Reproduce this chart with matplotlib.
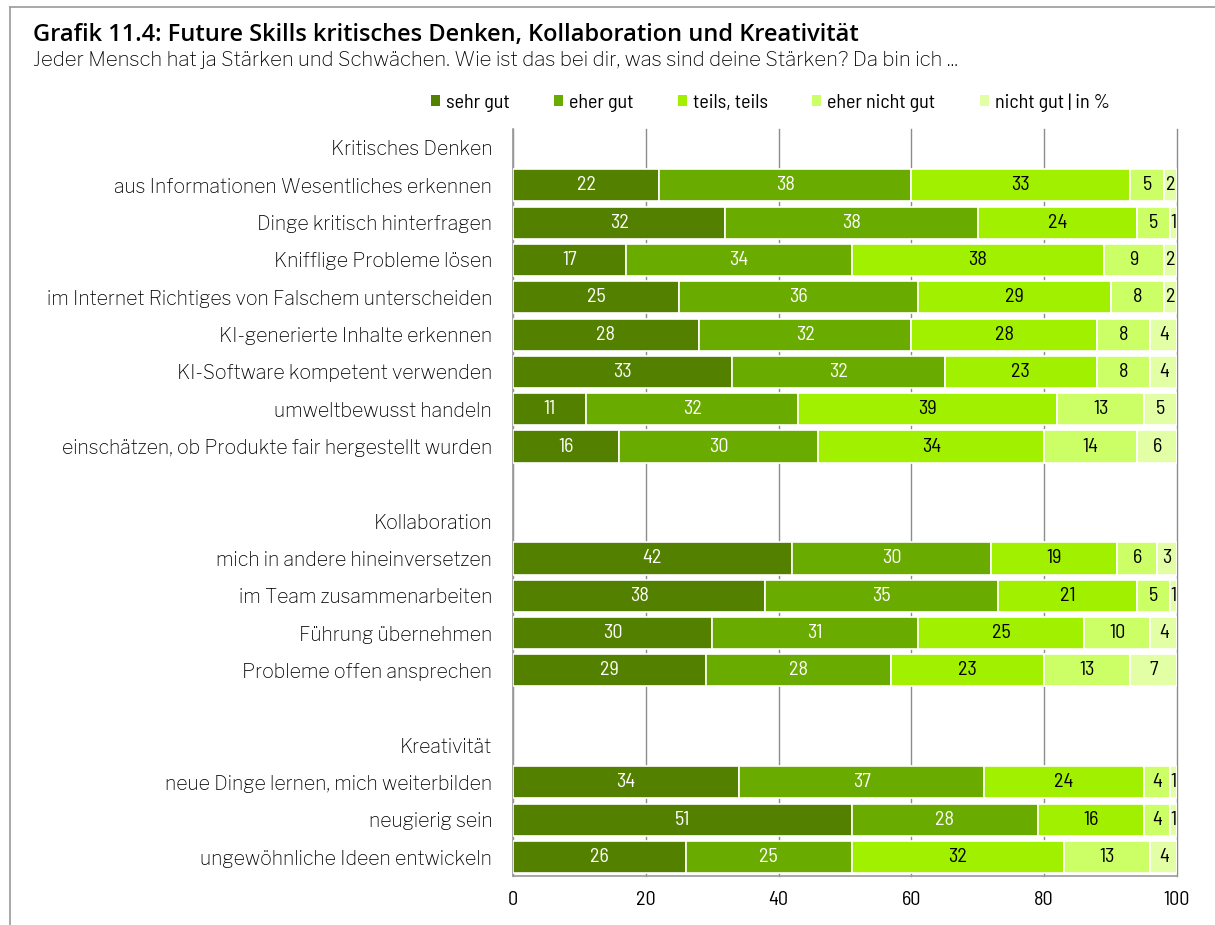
import numpy as np
import matplotlib.pyplot as plt
from matplotlib.patches import Patch
from matplotlib.lines import Line2D
from matplotlib import font_manager

# Rows from top to bottom: group headers, items, blank separators
labels = ["Kritisches Denken",
          "aus Informationen Wesentliches erkennen",
          "Dinge kritisch hinterfragen",
          "Knifflige Probleme lösen",
          "im Internet Richtiges von Falschem unterscheiden",
          "KI-generierte Inhalte erkennen",
          "KI-Software kompetent verwenden",
          "umweltbewusst handeln",
          "einschätzen, ob Produkte fair hergestellt wurden",
          "",
          "Kollaboration",
          "mich in andere hineinversetzen",
          "im Team zusammenarbeiten",
          "Führung übernehmen",
          "Probleme offen ansprechen",
          "",
          "Kreativität",
          "neue Dinge lernen, mich weiterbilden",
          "neugierig sein",
          "ungewöhnliche Ideen entwickeln"]

n = np.nan
sehr_gut        = [n, 22, 32, 17, 25, 28, 33, 11, 16, n, n, 42, 38, 30, 29, n, n, 34, 51, 26]
eher_gut        = [n, 38, 38, 34, 36, 32, 32, 32, 30, n, n, 30, 35, 31, 28, n, n, 37, 28, 25]
teils_teils     = [n, 33, 24, 38, 29, 28, 23, 39, 34, n, n, 19, 21, 25, 23, n, n, 24, 16, 32]
eher_nicht_gut  = [n, 5, 5, 9, 8, 8, 8, 13, 14, n, n, 6, 5, 10, 13, n, n, 4, 4, 13]
nicht_gut       = [n, 2, 1, 2, 2, 4, 4, 5, 6, n, n, 3, 1, 4, 7, n, n, 1, 1, 4]

series = [sehr_gut, eher_gut, teils_teils, eher_nicht_gut, nicht_gut]
names = ["sehr gut", "eher gut", "teils, teils", "eher nicht gut", "nicht gut | in %"]
colors = ["#548000", "#6aab00", "#a0f000", "#ccff66", "#e2ffa6"]
txt_colors = ["white", "white", "black", "black", "black"]

installed = {f.name for f in font_manager.fontManager.ttflist}


def pick(*cands):
    for c in cands:
        if c in installed:
            return c
    return "DejaVu Sans"


narrow = pick("Barlow Semi Condensed", "Asap Condensed", "Liberation Sans Narrow")
main = pick("Libre Franklin", "Liberation Sans")
title_font = pick("Open Sans", "Liberation Sans")
plt.rcParams['font.family'] = [main, 'DejaVu Sans']

fig = plt.figure(figsize=(12.15, 9.25), dpi=100)
ax = fig.add_axes([0.4222, 0.0533, 0.5465, 0.8069])

y = np.arange(len(labels))
left = np.zeros(len(labels))
for vals, col, tc in zip(series, colors, txt_colors):
    v = np.array(vals, dtype=float)
    ok = ~np.isnan(v)
    ax.barh(y[ok], v[ok], left=left[ok], height=0.86, color=col,
            edgecolor="white", linewidth=1.2, zorder=3)
    for yi, vi, li in zip(y[ok], v[ok], left[ok]):
        ax.text(li + vi / 2, yi, f"{vi:.0f}", ha="center", va="center",
                color=tc, fontsize=14.5, family=narrow, fontweight="normal", zorder=4)
    left[ok] += v[ok]

ax.set_ylim(len(labels) - 0.5, -0.5)
ax.set_xlim(0, 100)
ax.set_xticks([0, 20, 40, 60, 80, 100])
ax.set_yticks(y)
ax.set_yticklabels(labels, fontsize=14)
ax.tick_params(axis="y", length=0, pad=15)
ax.tick_params(axis="x", length=0, pad=11, labelsize=14.5)
for t in ax.get_xticklabels():
    t.set_family(narrow)
ax.grid(axis="x", color="#8c8c8c", linewidth=1, zorder=0)
for gl in ax.get_xgridlines():
    gl.set_clip_on(False)
ax.set_axisbelow(True)
for s in ["top", "right"]:
    ax.spines[s].set_visible(False)
for s in ["left", "bottom"]:
    ax.spines[s].set_color("#9a9a9a")
    ax.spines[s].set_linewidth(1.2)

handles = [Patch(facecolor=c, edgecolor="none") for c in colors]
fig.legend(handles, names, loc="center", bbox_to_anchor=(0.634, 0.889), ncol=5,
           frameon=False, handlelength=0.45, handleheight=0.45, handletextpad=0.3,
           columnspacing=2.2, prop={"family": narrow, "size": 14.5})

fig.text(0.027, 0.962, "Grafik 11.4: Future Skills kritisches Denken, Kollaboration und Kreativität",
         fontsize=17, fontweight="semibold", family=title_font, va="center")
fig.text(0.027, 0.935, "Jeder Mensch hat ja Stärken und Schwächen. Wie ist das bei dir, was sind deine Stärken? Da bin ich ...",
         fontsize=14.6, va="center")

# outer frame
fig.add_artist(Line2D([0.0085, 0.0085], [0.0, 0.992], color="#9a9a9a", lw=1.2))
fig.add_artist(Line2D([0.0085, 1.0], [0.992, 0.992], color="#9a9a9a", lw=1.2))

fig.savefig("out.png", dpi=100)
